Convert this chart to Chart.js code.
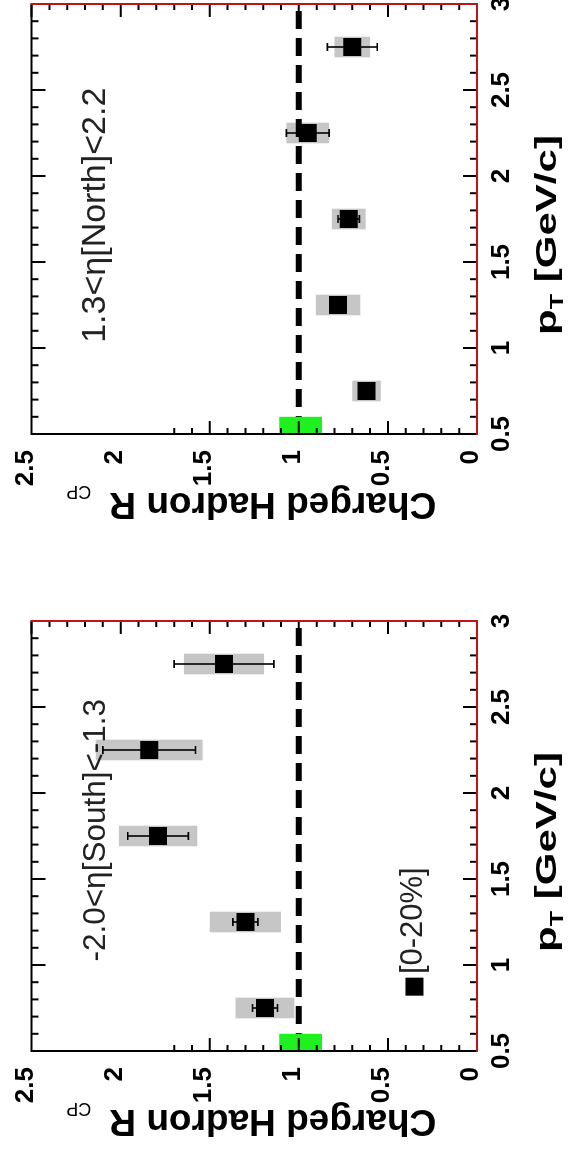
<!DOCTYPE html>
<html>
<head>
<meta charset="utf-8">
<script src="https://cdn.jsdelivr.net/npm/chart.js@4.4.1/dist/chart.umd.min.js"></script>
<style>
  html, body { margin: 0; padding: 0; background: #fff; overflow: hidden; width: 569px; height: 1151px; }
  /* The figure is laid out landscape and turned a quarter turn counter-clockwise */
  #figure { position: absolute; left: 0; top: 0; width: 1176px; height: 569px;
            transform-origin: 0 0; transform: translateY(1151px) rotate(-90deg); background: #fff; }
  #figure canvas { position: absolute; top: 0; }
  #south { left: 0; }
  #north { left: 576px; }
</style>
</head>
<body>
<div id="figure">
  <canvas id="south" width="576" height="569"></canvas>
  <canvas id="north" width="600" height="569"></canvas>
</div>
<script>
// pT bin centres [GeV/c]
const ptBins = [0.75, 1.25, 1.75, 2.25, 2.75];

// South arm, -2.0 < eta < -1.3
const rcpSouth  = [1.19, 1.30, 1.79, 1.84, 1.42];
const statSouth = [0.07, 0.07, 0.17, 0.26, 0.28];
const sysSouth  = [0.165, 0.20, 0.22, 0.30, 0.225];

// North arm, 1.3 < eta < 2.2
const rcpNorth  = [0.62, 0.78, 0.72, 0.95, 0.70];
const statNorth = [0.03, 0.03, 0.06, 0.12, 0.14];
const sysNorth  = [0.08, 0.125, 0.095, 0.12, 0.10];

// global normalisation uncertainty drawn at R_CP = 1
const normBand    = [0.87, 1.11];
const normPtRange = [0.5, 0.6];

// axis ticks
const ptTicks  = [0.5, 1, 1.5, 2, 2.5, 3];
const rcpTicks = [0, 0.5, 1, 1.5, 2, 2.5];

const centralityLabel = '[0-20%]';
const FONT = '"Liberation Sans", Arial, Helvetica, sans-serif';
Chart.defaults.font.family = FONT;

function makePanel(canvasId, cfg) {
  const bandHalfPt = 0.06;
  const markerSide = 18;

  const decor = {
    id: 'rootDecor',
    beforeDatasetsDraw(chart) {
      const { ctx, scales: { x, y } } = chart;
      ctx.save();
      ctx.fillStyle = '#c6c6c6';
      ptBins.forEach((p, i) => {
        const x0 = x.getPixelForValue(p - bandHalfPt), x1 = x.getPixelForValue(p + bandHalfPt);
        const y0 = y.getPixelForValue(cfg.rcp[i] + cfg.sys[i]), y1 = y.getPixelForValue(cfg.rcp[i] - cfg.sys[i]);
        ctx.fillRect(x0, y0, x1 - x0, y1 - y0);
      });
      ctx.restore();
    },
    afterDatasetsDraw(chart) {
      const { ctx, scales: { x, y } } = chart;
      ctx.save();
      // statistical error bars with end caps
      ctx.strokeStyle = '#000';
      ctx.lineWidth = 1.6;
      ptBins.forEach((p, i) => {
        const px = x.getPixelForValue(p);
        const yHi = y.getPixelForValue(cfg.rcp[i] + cfg.stat[i]);
        const yLo = y.getPixelForValue(cfg.rcp[i] - cfg.stat[i]);
        ctx.beginPath();
        ctx.moveTo(px, yHi); ctx.lineTo(px, yLo);
        ctx.moveTo(px - 4, yHi); ctx.lineTo(px + 4, yHi);
        ctx.moveTo(px - 4, yLo); ctx.lineTo(px + 4, yLo);
        ctx.stroke();
      });
      // normalisation box
      ctx.fillStyle = '#1ff01f';
      const nx0 = x.getPixelForValue(normPtRange[0]), nx1 = x.getPixelForValue(normPtRange[1]);
      const ny0 = y.getPixelForValue(normBand[1]), ny1 = y.getPixelForValue(normBand[0]);
      ctx.fillRect(nx0, ny0, nx1 - nx0, ny1 - ny0);

      // centrality legend entry
      if (cfg.legend) {
        const lx = x.getPixelForValue(cfg.legend.pt), ly = y.getPixelForValue(cfg.legend.rcp);
        ctx.fillStyle = '#000';
        ctx.fillRect(lx - markerSide / 2, ly - markerSide / 2, markerSide, markerSide);
        ctx.font = '31px ' + FONT;
        ctx.fillStyle = '#222';
        ctx.textBaseline = 'alphabetic';
        ctx.textAlign = 'left';
        ctx.fillText(centralityLabel, x.getPixelForValue(cfg.legend.textPt), y.getPixelForValue(cfg.legend.textRcp));
      }
      ctx.restore();
    },
    afterDraw(chart) {
      const { ctx, chartArea: a, scales: { x, y } } = chart;
      ctx.save();
      ctx.lineCap = 'butt';
      // inward ticks
      ctx.strokeStyle = '#000';
      ctx.lineWidth = 2;
      ctx.beginPath();
      for (let k = 5; k <= 30; k++) {
        const px = x.getPixelForValue(k / 10);
        const len = k % 5 === 0 ? 14 : 7;
        ctx.moveTo(px, a.bottom); ctx.lineTo(px, a.bottom - len);
        ctx.moveTo(px, a.top); ctx.lineTo(px, a.top + len);
      }
      for (let k = 0; k <= 25; k++) {
        const py = y.getPixelForValue(k / 10);
        const len = k % 5 === 0 ? 13 : 6;
        if (k / 10 <= 1.7) { ctx.moveTo(a.left, py); ctx.lineTo(a.left + len, py); }
        ctx.moveTo(a.right, py); ctx.lineTo(a.right - len, py);
      }
      ctx.stroke();

      // frame
      ctx.lineWidth = 2;
      ctx.strokeStyle = '#000';
      ctx.beginPath();
      ctx.moveTo(a.left, a.bottom); ctx.lineTo(a.left, a.top); ctx.lineTo(a.right, a.top);
      ctx.stroke();
      ctx.strokeStyle = '#c0141c';
      ctx.beginPath();
      ctx.moveTo(a.right, a.top - 1); ctx.lineTo(a.right, a.bottom); ctx.lineTo(a.left - 1, a.bottom);
      ctx.stroke();

      // eta range annotation
      ctx.font = cfg.etaSize + 'px ' + FONT;
      ctx.fillStyle = '#222';
      ctx.textAlign = 'left';
      ctx.textBaseline = 'alphabetic';
      ctx.fillText(cfg.etaLabel, x.getPixelForValue(cfg.etaPos.pt), y.getPixelForValue(cfg.etaPos.rcp));

      // y-axis title, reading upwards
      ctx.save();
      ctx.translate(a.left - 59, (a.top + a.bottom) / 2 - 3);
      ctx.rotate(-Math.PI / 2);
      ctx.fillStyle = '#000';
      ctx.font = 'bold 37px ' + FONT;
      const main = 'Charged Hadron R';
      const wMain = ctx.measureText(main).width;
      ctx.font = '18px ' + FONT;
      const wSub = ctx.measureText('CP').width;
      const gap = 18;
      const start = -(wMain + gap + wSub) / 2;
      ctx.font = 'bold 37px ' + FONT;
      ctx.fillText(main, start, 0);
      ctx.font = '18px ' + FONT;
      ctx.fillText('CP', start + wMain + gap, 7);
      ctx.restore();

      // x-axis title
      ctx.save();
      ctx.translate((a.left + a.right) / 2 - 16, a.bottom + 79);
      ctx.scale(1.4, 1);
      ctx.fillStyle = '#000';
      ctx.font = 'bold 30px ' + FONT;
      const wp = ctx.measureText('p').width;
      const rest = ' [GeV/c]';
      const wRest = ctx.measureText(rest).width;
      ctx.font = 'bold 18px ' + FONT;
      const wT = ctx.measureText('T').width;
      const s0 = -(wp + wT + wRest) / 2;
      ctx.font = 'bold 30px ' + FONT;
      ctx.fillText('p', s0, 0);
      ctx.font = 'bold 18px ' + FONT;
      ctx.fillText('T', s0 + wp, 7);
      ctx.font = 'bold 30px ' + FONT;
      ctx.fillText(rest, s0 + wp + wT, 0);
      ctx.restore();

      ctx.restore();
    }
  };

  return new Chart(document.getElementById(canvasId), {
    type: 'scatter',
    data: {
      datasets: [
        {
          type: 'line',
          data: [ptTicks[0], ptTicks[ptTicks.length - 1]].map(p => ({ x: p, y: 1 })),
          borderColor: '#000',
          borderWidth: 6,
          borderDash: [18, 9],
          pointRadius: 0,
          fill: false
        },
        {
          type: 'scatter',
          data: ptBins.map((p, i) => ({ x: p, y: cfg.rcp[i] })),
          pointStyle: 'rect',
          pointRadius: markerSide / 2 / Math.SQRT1_2,
          backgroundColor: '#000',
          borderWidth: 0
        }
      ]
    },
    options: {
      responsive: false,
      animation: false,
      events: [],
      layout: { autoPadding: false, padding: { left: cfg.padLeft, right: cfg.padRight, top: 29, bottom: 0 } },
      plugins: { legend: { display: false }, tooltip: { enabled: false } },
      scales: {
        x: {
          type: 'linear',
          min: ptTicks[0], max: ptTicks[ptTicks.length - 1],
          grid: { display: false, drawTicks: false },
          border: { display: false },
          afterBuildTicks: s => { s.ticks = ptTicks.map(v => ({ value: v })); },
          afterFit: s => { s.height = 92; },
          ticks: { color: '#000', font: { size: 26, weight: 'bold' }, padding: 9, maxRotation: 0, autoSkip: false,
                   callback: v => String(v) }
        },
        y: {
          type: 'linear',
          min: rcpTicks[0], max: rcpTicks[rcpTicks.length - 1],
          grid: { display: false, drawTicks: false },
          border: { display: false },
          afterBuildTicks: s => { s.ticks = rcpTicks.map(v => ({ value: v })); },
          afterFit: s => { s.width = 100; },
          ticks: { color: '#000', font: { size: 26, weight: 'bold' }, padding: 16, labelOffset: -6, autoSkip: false,
                   callback: v => String(v) }
        }
      }
    },
    plugins: [decor]
  });
}

makePanel('south', {
  rcp: rcpSouth, stat: statSouth, sys: sysSouth,
  etaLabel: '-2.0<\u03b7[South]<-1.3', etaSize: 31.5, etaPos: { pt: 1.02, rcp: 2.09 },
  legend: { pt: 0.874, rcp: 0.351, textPt: 0.947, textRcp: 0.307 },
  padLeft: 0, padRight: 46
});

makePanel('north', {
  rcp: rcpNorth, stat: statNorth, sys: sysNorth,
  etaLabel: '1.3<\u03b7[North]<2.2', etaSize: 34, etaPos: { pt: 1.03, rcp: 2.09 },
  legend: null,
  padLeft: 41, padRight: 29
});
</script>
</body>
</html>
